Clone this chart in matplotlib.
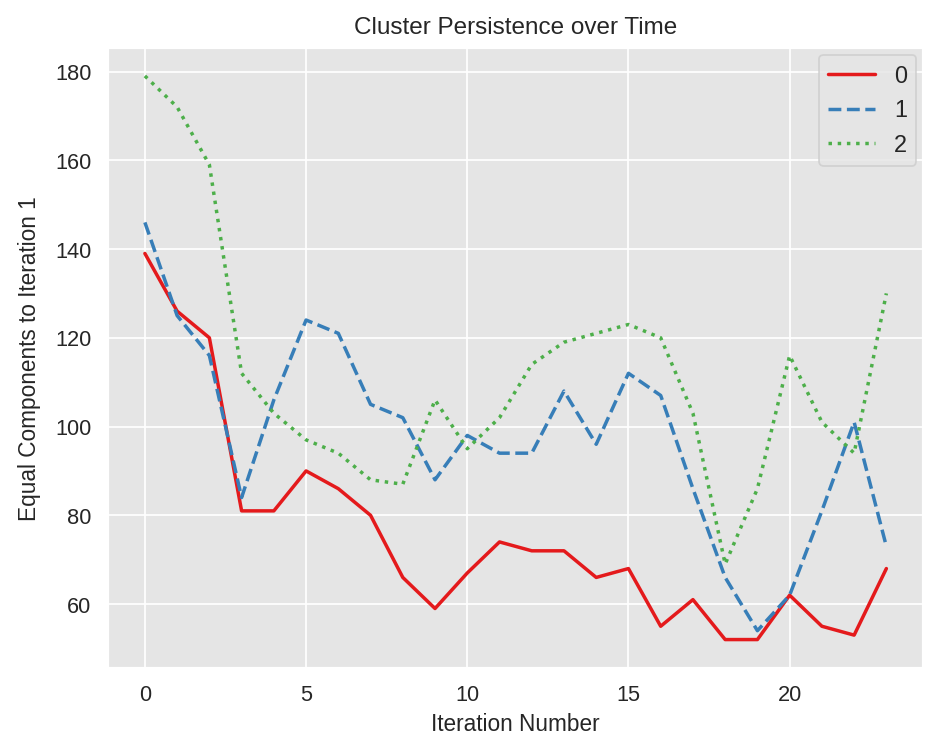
import matplotlib
matplotlib.use("Agg")
import matplotlib.pyplot as plt
import seaborn as sns
import numpy as np

# values
iterations = list(range(24))
cluster_0 = [139, 126, 120, 81, 81, 90, 86, 80, 66, 59, 67, 74, 72, 72, 66, 68, 55, 61, 52, 52, 62, 55, 53, 68]
cluster_1 = [146, 125, 116, 84, 106, 124, 121, 105, 102, 88, 98, 94, 94, 108, 96, 112, 107, 86, 66, 54, 62, 81, 101, 73]
cluster_2 = [179, 172, 159, 112, 103, 97, 94, 88, 87, 106, 95, 102, 114, 119, 121, 123, 120, 103, 69, 86, 116, 101, 94, 130]
labels = ["0", "1", "2"]

sns.set_theme(style="darkgrid", context="notebook", rc={"axes.facecolor": "#E5E5E5"})
plt.rcParams['font.family'] = ['Liberation Sans', 'DejaVu Sans']

colors = sns.color_palette("Set1", 3)
styles = ["-", "--", ":"]

fig, ax = plt.subplots(figsize=(7.5, 5.94), dpi=125)
for series, lab, col, ls in zip([cluster_0, cluster_1, cluster_2], labels, colors, styles):
    ax.plot(iterations, series, color=col, linestyle=ls, linewidth=2, label=lab)

ax.set_title("Cluster Persistence over Time", fontsize=14, pad=8)
ax.set_xlabel("Iteration Number", fontsize=13)
ax.set_ylabel("Equal Components to Iteration 1", fontsize=13, labelpad=8)
ax.set_xticks([0, 5, 10, 15, 20])
ax.tick_params(labelsize=12.5)
ax.legend(loc="upper right", fontsize=13.5, borderaxespad=0.3)

fig.subplots_adjust(left=0.115, right=0.985, top=0.935, bottom=0.10)
fig.savefig("out.png", dpi=125)
